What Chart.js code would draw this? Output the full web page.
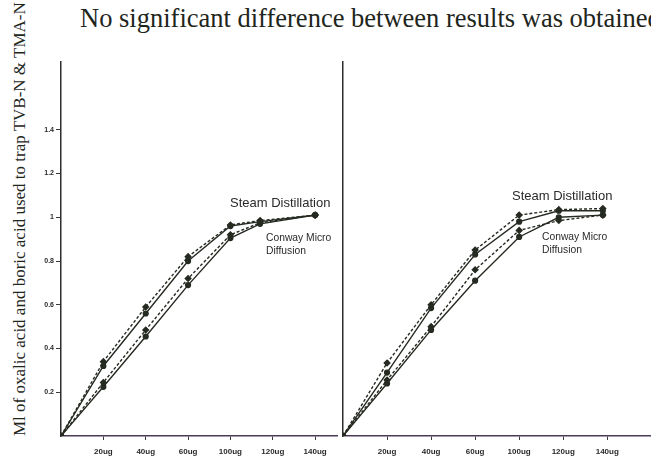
<!DOCTYPE html>
<html>
<head>
<meta charset="utf-8">
<script src="https://cdn.jsdelivr.net/npm/chart.js@4.4.1/dist/chart.umd.min.js"></script>
<style>
  body { margin:0; width:651px; height:457px; overflow:hidden; background:#fff; position:relative; }
  .box { position:absolute; }
  #title { position:absolute; left:80px; top:3px; white-space:nowrap; font-family:"Liberation Serif", serif; font-size:26.5px; color:#1e261c; }
  #ytitle { position:absolute; left:19px; top:436px; transform-origin:0 0; transform:rotate(-90deg); white-space:nowrap;
            font-family:"Liberation Serif", serif; font-size:17px; color:#1e261c; line-height:17px; margin-left:-8px; }
  .note { position:absolute; white-space:nowrap; font-family:"Liberation Sans", Arial, sans-serif; color:#2a2a2a; }
  .big { font-size:13px; }
  .small { font-size:10.3px; line-height:13px; }
</style>
</head>
<body>
<div id="title">No significant difference between results was obtained</div>
<div id="ytitle">Ml of oxalic acid and boric acid used to trap TVB-N &amp; TMA-N</div>

<div class="box" style="left:20px;top:50px;width:323px;height:407px"><canvas id="leftChart"></canvas></div>
<div class="box" style="left:333px;top:50px;width:340px;height:407px"><canvas id="rightChart"></canvas></div>

<div class="note big" style="left:230px;top:195px">Steam Distillation</div>
<div class="note small" style="left:266px;top:231px">Conway Micro<br>Diffusion</div>
<div class="note big" style="left:512px;top:188px">Steam Distillation</div>
<div class="note small" style="left:542px;top:230px">Conway Micro<br>Diffusion</div>

<script>
// tick labels (80ug is missing in the original figure)
const xTickPos = [1, 2, 3, 4, 5, 6];
const xLabels = ['20ug', '40ug', '60ug', '100ug', '120ug', '140ug'];
const yTicks = [0.2, 0.4, 0.6, 0.8, 1, 1.2, 1.4];
const yLabels = ['0.2', '0.4', '0.6', '0.8', '1', '1.2', '1.4'];

// left panel
const leftX = [0, 1, 2, 3, 4, 4.7, 6];
const leftSteamDash = [0, 0.34, 0.59, 0.82, 0.965, 0.985, 1.01];
const leftSteamSolid = [0, 0.32, 0.56, 0.80, 0.96, 0.98, 1.01];
const leftConwayDash = [0, 0.245, 0.485, 0.72, 0.92, 0.975, 1.01];
const leftConwaySolid = [0, 0.225, 0.455, 0.69, 0.905, 0.97, 1.01];

// right panel
const rightX = [0, 1, 2, 3, 4, 4.9, 5.9];
const rightSteamDash = [0, 0.334, 0.60, 0.85, 1.01, 1.035, 1.04];
const rightSteamSolid = [0, 0.29, 0.585, 0.83, 0.98, 1.03, 1.03];
const rightConwayDash = [0, 0.256, 0.50, 0.76, 0.94, 0.985, 1.01];
const rightConwaySolid = [0, 0.24, 0.485, 0.71, 0.91, 1.0, 1.01];

const ink = '#262b22';

function series(xs, ys, dashed){
  return {
    data: xs.map((x, i) => ({ x, y: ys[i] })),
    borderColor: ink,
    backgroundColor: ink,
    borderWidth: 1.4,
    borderDash: dashed ? [3, 2] : [],
    pointStyle: dashed ? 'rectRot' : 'circle',
    pointRadius: dashed ? 2.8 : 2.4,
    pointBackgroundColor: ink,
    pointBorderColor: ink,
    tension: 0
  };
}

function panelOptions(xMax, showY, yWidth){
  return {
    responsive: true,
    maintainAspectRatio: false,
    animation: false,
    layout: { padding: { top: 12, right: 0, left: 0, bottom: 0 } },
    plugins: { legend: { display: false }, tooltip: { enabled: false } },
    scales: {
      x: {
        type: 'linear', min: 0, max: xMax,
        afterBuildTicks: s => { s.ticks = xTickPos.map(v => ({ value: v })); },
        afterFit: s => { s.height = 21; },
        ticks: {
          autoSkip: false, maxRotation: 0, padding: 7,
          color: '#2a2a2a',
          font: { family: 'Liberation Sans', size: 8, weight: 'bold' },
          callback: v => xLabels[xTickPos.indexOf(v)]
        },
        grid: { drawOnChartArea: false, tickLength: 4, color: '#3a3a3a' },
        border: { color: '#4b3a58', width: 1.5 }
      },
      y: {
        type: 'linear', min: 0, max: 1.71,
        afterBuildTicks: s => { s.ticks = showY ? yTicks.map(v => ({ value: v })) : []; },
        afterFit: s => { s.width = yWidth; },
        ticks: {
          display: showY, padding: 2,
          color: '#2a2a2a',
          font: { family: 'Liberation Sans', size: 7, weight: 'bold' },
          callback: v => yLabels[yTicks.indexOf(v)]
        },
        grid: { drawOnChartArea: false, drawTicks: showY, tickLength: 5, color: '#3a3a3a' },
        border: { color: '#2d2d2d', width: 1.5 }
      }
    }
  };
}

new Chart(document.getElementById('leftChart'), {
  type: 'line',
  data: { datasets: [
    series(leftX, leftSteamDash, true),
    series(leftX, leftSteamSolid, false),
    series(leftX, leftConwayDash, true),
    series(leftX, leftConwaySolid, false)
  ]},
  options: panelOptions(6.53, true, 41)
});

new Chart(document.getElementById('rightChart'), {
  type: 'line',
  data: { datasets: [
    series(rightX, rightSteamDash, true),
    series(rightX, rightSteamSolid, false),
    series(rightX, rightConwayDash, true),
    series(rightX, rightConwaySolid, false)
  ]},
  options: panelOptions(7.37, false, 10)
});
</script>
</body>
</html>
